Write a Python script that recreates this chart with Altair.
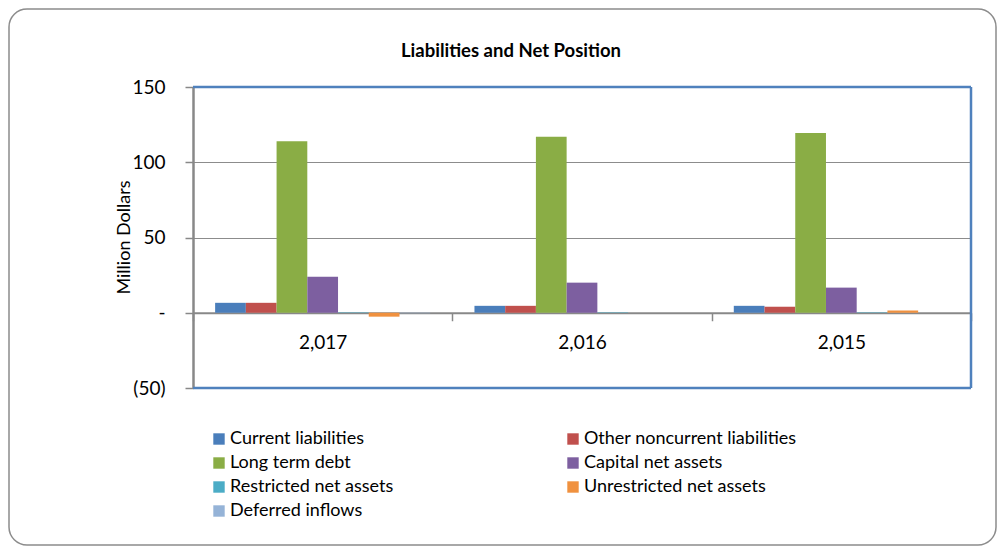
import altair as alt
import pandas as pd

years = ["2,017", "2,016", "2,015"]
series = [
    "Current liabilities",
    "Other noncurrent liabilities",
    "Long term debt",
    "Capital net assets",
    "Restricted net assets",
    "Unrestricted net assets",
    "Deferred inflows",
]
colors = ["#4A7EBB", "#C0504D", "#8AAD45", "#7D5FA0", "#4BACC6", "#F0913F", "#95B3D7"]

current_liabilities = [6.6, 4.6, 4.6]
other_noncurrent = [6.6, 4.6, 4.0]
long_term_debt = [114.0, 117.0, 119.5]
capital_net_assets = [24.0, 20.0, 16.7]
restricted_net_assets = [0.3, 0.3, 0.3]
unrestricted_net_assets = [-2.6, 0.0, 1.5]
deferred_inflows = [-0.3, 0.0, 0.0]

all_values = [current_liabilities, other_noncurrent, long_term_debt,
              capital_net_assets, restricted_net_assets,
              unrestricted_net_assets, deferred_inflows]

rows = []
for s, vals in zip(series, all_values):
    for y, v in zip(years, vals):
        rows.append({"year": y, "series": s, "value": v})
df = pd.DataFrame(rows)

FONT = "Lato"
W, H = 778, 301
BLUE = "#4F81BD"

bars = alt.Chart(df).mark_bar(strokeWidth=0).encode(
    x=alt.X("year:N", sort=years, title=None,
            scale=alt.Scale(paddingInner=0, paddingOuter=0),
            axis=alt.Axis(orient="bottom", offset=-75.25, tickBand="extent",
                          domainColor="#888888", domainWidth=2,
                          tickColor="#888888", tickSize=8, tickWidth=1.5,
                          labelAngle=0, labelFontSize=19, labelFont=FONT,
                          labelColor="#000000", labelPadding=13)),
    xOffset=alt.XOffset("series:N", sort=series,
                        scale=alt.Scale(paddingInner=0, paddingOuter=0.72)),
    y=alt.Y("value:Q", title="Million Dollars",
            scale=alt.Scale(domain=[-50, 150], nice=False),
            axis=alt.Axis(values=[-50, 0, 50, 100, 150],
                          labelExpr="datum.value == 0 ? '-\u00a0\u00a0\u00a0' : (datum.value < 0 ? '(' + format(-datum.value, ',') + ')' : format(datum.value, ',') + '\u00a0')",
                          labelFontSize=19, labelFont=FONT, labelColor="#000000",
                          labelPadding=20, tickSize=8, tickColor="#888888",
                          tickWidth=1.5, domainColor="#888888", domainWidth=2.5,
                          gridColor={"condition": {"test": "datum.value == 150 || datum.value == -50",
                                                   "value": "transparent"},
                                     "value": "#8C8C8C"},
                          gridWidth=1.2,
                          titleFontSize=18, titleFont=FONT, titleFontWeight="normal",
                          titleColor="#000000", titleX=-69, titleY=150,
                          titleAngle=270, titleAlign="center", titleBaseline="middle")),
    color=alt.Color("series:N", sort=series,
                    scale=alt.Scale(domain=series, range=colors),
                    legend=alt.Legend(title=None, orient="none", legendX=17, legendY=343,
                                      direction="horizontal", columns=2,
                                      columnPadding=170, rowPadding=6,
                                      symbolType="square", symbolSize=130,
                                      symbolStrokeWidth=0, labelOffset=2,
                                      labelFontSize=18, labelFont=FONT,
                                      labelColor="#000000", labelLimit=400)),
)

deco_df = pd.DataFrame({"k": [0]})
top_edge = alt.Chart(deco_df).mark_rule(color=BLUE, strokeWidth=2.5).encode(
    x=alt.value(0), x2=alt.value(W), y=alt.value(0))
bottom_edge = alt.Chart(deco_df).mark_rule(color=BLUE, strokeWidth=2.5).encode(
    x=alt.value(0), x2=alt.value(W), y=alt.value(H))
right_edge = alt.Chart(deco_df).mark_rule(color=BLUE, strokeWidth=2.5).encode(
    x=alt.value(W), y=alt.value(0), y2=alt.value(H))

title_df = pd.DataFrame({"t": ["Liabilities and Net Position"]})
title = alt.Chart(title_df).mark_text(fontSize=18.5, font=FONT, fontWeight="bold",
                                      color="#000000", baseline="middle").encode(
    text="t:N", x=alt.value(318), y=alt.value(-36))

frame = alt.Chart(deco_df).mark_rect(fill=None, stroke="#8C8C8C", strokeWidth=1.5,
                                     cornerRadius=18).encode(
    x=alt.value(-184), x2=alt.value(803), y=alt.value(-78), y2=alt.value(458))

chart = alt.layer(frame, top_edge, bottom_edge, right_edge, bars, title).properties(
    width=W, height=H,
    background="white",
    autosize=alt.AutoSizeParams(type="none"),
    padding={"left": 185, "top": 79, "right": 27, "bottom": 158},
).configure_view(stroke=None)

chart.save("out.html", embed_options={"renderer": "svg", "actions": False})
